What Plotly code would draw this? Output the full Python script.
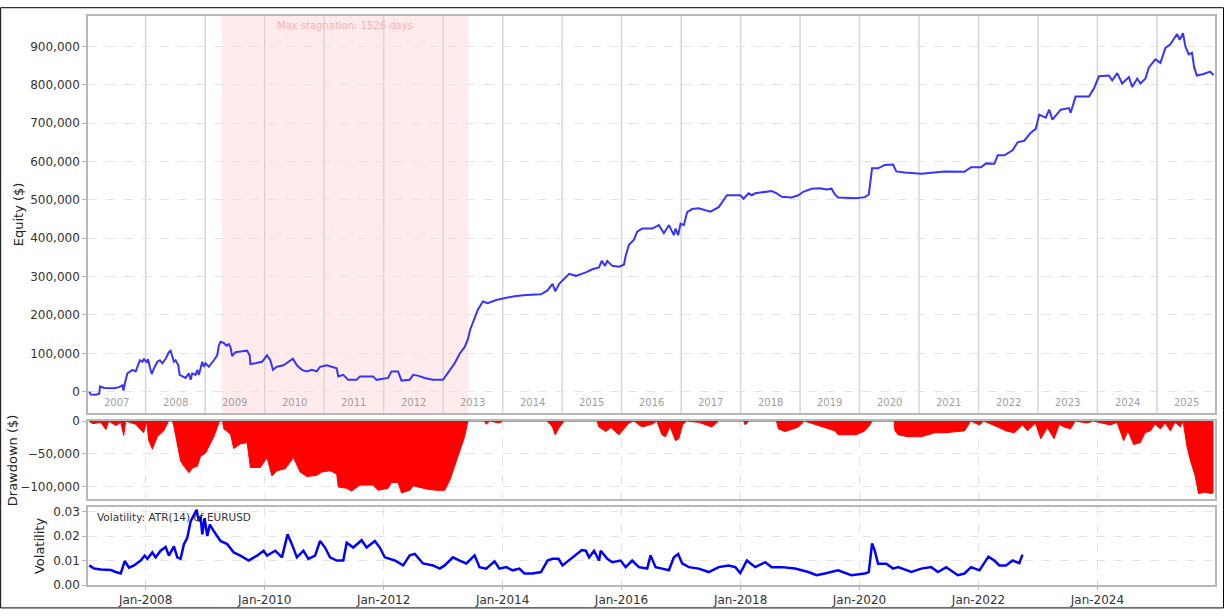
import plotly.graph_objects as go
from datetime import datetime, timedelta

# ---------------- data ----------------
# time given as decimal years
eq_year = [2007.050, 2007.079, 2007.162, 2007.218, 2007.234, 2007.302, 2007.464, 2007.553, 2007.610, 2007.626,
           2007.665, 2007.693, 2007.777, 2007.832, 2007.861, 2007.905, 2007.945, 2007.972, 2008.012, 2008.039,
           2008.072, 2008.101, 2008.139, 2008.196, 2008.240, 2008.280, 2008.335, 2008.390, 2008.419, 2008.447,
           2008.474, 2008.503, 2008.548, 2008.570, 2008.615, 2008.670, 2008.725, 2008.754, 2008.782, 2008.838,
           2008.866, 2008.893, 2008.950, 2008.977, 2009.005, 2009.060, 2009.144, 2009.201, 2009.228, 2009.256,
           2009.312, 2009.357, 2009.395, 2009.424, 2009.452, 2009.508, 2009.591, 2009.704, 2009.747, 2009.759,
           2009.843, 2009.955, 2010.039, 2010.094, 2010.139, 2010.206, 2010.317, 2010.400, 2010.474, 2010.541,
           2010.625, 2010.709, 2010.792, 2010.876, 2010.931, 2011.044, 2011.154, 2011.211, 2011.238, 2011.322,
           2011.405, 2011.546, 2011.601, 2011.685, 2011.824, 2011.881, 2012.075, 2012.132, 2012.243, 2012.300,
           2012.439, 2012.494, 2012.573, 2012.690, 2012.829, 2012.997, 2013.109, 2013.193, 2013.276, 2013.360,
           2013.415, 2013.456, 2013.499, 2013.583, 2013.667, 2013.750, 2013.891, 2014.059, 2014.198, 2014.394,
           2014.645, 2014.755, 2014.839, 2014.884, 2014.951, 2015.007, 2015.119, 2015.231, 2015.399, 2015.509,
           2015.621, 2015.667, 2015.722, 2015.760, 2015.844, 2015.956, 2016.040, 2016.068, 2016.124, 2016.208,
           2016.263, 2016.347, 2016.514, 2016.626, 2016.710, 2016.794, 2016.878, 2016.906, 2016.950, 2016.990,
           2017.045, 2017.101, 2017.184, 2017.296, 2017.492, 2017.631, 2017.732, 2017.771, 2017.995, 2018.050,
           2018.134, 2018.189, 2018.246, 2018.524, 2018.608, 2018.692, 2018.859, 2018.971, 2019.055, 2019.194,
           2019.335, 2019.445, 2019.529, 2019.586, 2019.641, 2019.948, 2020.089, 2020.156, 2020.211, 2020.312,
           2020.424, 2020.563, 2020.618, 2020.759, 2021.037, 2021.204, 2021.429, 2021.764, 2021.874, 2022.042,
           2022.126, 2022.266, 2022.322, 2022.434, 2022.573, 2022.657, 2022.769, 2022.879, 2022.963, 2023.020,
           2023.131, 2023.188, 2023.243, 2023.382, 2023.523, 2023.549, 2023.633, 2023.857, 2023.941, 2024.025,
           2024.193, 2024.248, 2024.332, 2024.415, 2024.528, 2024.583, 2024.667, 2024.722, 2024.806, 2024.863,
           2024.973, 2025.057, 2025.141, 2025.224, 2025.281, 2025.337, 2025.382, 2025.437, 2025.476, 2025.533,
           2025.588, 2025.625, 2025.670, 2025.782, 2025.893, 2025.950]
equity_k = [0, -7, -8, -5, 14, 10, 9, 12, 17, 3,
            31, 48, 57, 53, 65, 82, 78, 86, 76, 85,
            63, 46, 61, 78, 82, 74, 86, 103, 107, 95,
            78, 82, 69, 44, 40, 36, 48, 31, 48, 44,
            57, 44, 78, 65, 74, 65, 82, 95, 120, 130,
            127, 120, 124, 116, 93, 103, 105, 107, 95, 72,
            74, 78, 95, 82, 57, 65, 69, 78, 86, 69,
            57, 53, 57, 53, 65, 69, 65, 61, 40, 44,
            31, 31, 40, 40, 40, 31, 36, 53, 53, 29,
            31, 44, 42, 36, 31, 31, 57, 74, 99, 116,
            137, 163, 180, 214, 235, 231, 239, 244, 249, 252,
            254, 264, 281, 262, 281, 290, 307, 302, 311, 319,
            324, 341, 328, 341, 328, 326, 331, 353, 383, 396,
            417, 425, 425, 434, 413, 434, 408, 425, 408, 438,
            434, 468, 476, 478, 469, 481, 506, 512, 512, 503,
            517, 512, 517, 523, 517, 508, 506, 512, 521, 529,
            530, 527, 529, 514, 506, 504, 507, 514, 582, 582,
            591, 592, 574, 571, 568, 571, 574, 573, 585, 585,
            595, 594, 616, 616, 629, 650, 654, 675, 685, 722,
            714, 735, 709, 735, 739, 727, 769, 769, 790, 822,
            824, 811, 830, 803, 820, 794, 816, 803, 816, 845,
            866, 857, 896, 905, 917, 932, 917, 934, 900, 879,
            883, 845, 824, 828, 834, 825]

dd_year = [2007.045, 2007.112, 2007.246, 2007.330, 2007.380, 2007.497, 2007.581, 2007.631, 2007.665, 2007.832,
           2007.966, 2008.017, 2008.050, 2008.112, 2008.196, 2008.302, 2008.385, 2008.447, 2008.469, 2008.531,
           2008.586, 2008.642, 2008.725, 2008.782, 2008.866, 2008.921, 2009.005, 2009.144, 2009.201, 2009.240,
           2009.290, 2009.312, 2009.424, 2009.479, 2009.591, 2009.704, 2009.759, 2009.926, 2010.039, 2010.122,
           2010.206, 2010.345, 2010.484, 2010.596, 2010.709, 2010.876, 2010.960, 2011.099, 2011.211, 2011.238,
           2011.379, 2011.462, 2011.601, 2011.824, 2011.908, 2012.075, 2012.132, 2012.243, 2012.300, 2012.439,
           2012.494, 2012.718, 2012.886, 2013.025, 2013.109, 2013.193, 2013.276, 2013.360, 2013.415, 2013.693,
           2013.724, 2013.779, 2013.946, 2013.997, 2014.750, 2014.834, 2014.884, 2014.951, 2015.035, 2015.586,
           2015.621, 2015.733, 2015.822, 2015.956, 2016.040, 2016.124, 2016.208, 2016.342, 2016.509, 2016.593,
           2016.677, 2016.739, 2016.811, 2016.906, 2016.960, 2017.027, 2017.094, 2017.296, 2017.513, 2017.631,
           2018.050, 2018.079, 2018.134, 2018.603, 2018.636, 2018.747, 2018.886, 2018.971, 2019.072, 2019.586,
           2019.641, 2019.948, 2020.089, 2020.173, 2020.211, 2020.580, 2020.596, 2020.647, 2020.814, 2021.037,
           2021.261, 2021.429, 2021.764, 2021.869, 2022.015, 2022.087, 2022.322, 2022.461, 2022.600, 2022.740,
           2022.824, 2022.958, 2023.046, 2023.157, 2023.270, 2023.358, 2023.436, 2023.547, 2023.626, 2023.827,
           2023.927, 2024.216, 2024.328, 2024.440, 2024.512, 2024.608, 2024.719, 2024.797, 2024.887, 2024.965,
           2025.057, 2025.137, 2025.224, 2025.303, 2025.392, 2025.437, 2025.504, 2025.557, 2025.641, 2025.698,
           2025.809, 2025.921, 2025.950]
drawdown_k = [0, -4, -2, -13, 0, -7, -2, -22, 0, -5,
              -18, 0, -29, -43, -24, -15, 0, 0, -6, -33,
              -61, -69, -79, -72, -69, -54, -49, -24, -9, 0,
              0, -12, -20, -42, -35, -33, -71, -71, -56, -84,
              -76, -73, -56, -78, -85, -83, -78, -76, -81, -101,
              -103, -107, -98, -98, -106, -103, -94, -94, -110, -106,
              -99, -104, -106, -106, -91, -69, -49, -24, 0, 0,
              -5, 0, -3, 0, 0, -8, -21, -10, 0, 0,
              -9, -16, -10, -21, -12, -3, 0, -9, -5, 0,
              -21, -24, -8, -30, -27, -5, 0, -2, -9, 0,
              0, -6, 0, 0, -12, -16, -12, -9, 0, -15,
              -21, -21, -15, -6, 0, 0, -15, -21, -24, -24,
              -18, -18, -15, 0, -6, 0, -9, -15, -18, -6,
              -15, -3, -27, -10, -27, -5, -9, -12, 0, -3,
              0, -6, -2, -30, -15, -36, -33, -18, -15, -5,
              -12, -3, -15, -2, -9, 0, -39, -59, -84, -111,
              -109, -111, -109]

vol_year = [2007.050, 2007.134, 2007.246, 2007.414, 2007.497, 2007.581, 2007.648, 2007.720, 2007.804, 2007.916,
            2007.983, 2008.028, 2008.112, 2008.168, 2008.251, 2008.335, 2008.390, 2008.474, 2008.531, 2008.586,
            2008.642, 2008.698, 2008.754, 2008.809, 2008.854, 2008.893, 2008.921, 2008.950, 2008.988, 2009.034,
            2009.077, 2009.144, 2009.256, 2009.369, 2009.479, 2009.591, 2009.730, 2009.871, 2009.982, 2010.039,
            2010.178, 2010.290, 2010.384, 2010.457, 2010.541, 2010.652, 2010.735, 2010.848, 2010.931, 2011.015,
            2011.099, 2011.211, 2011.322, 2011.379, 2011.489, 2011.630, 2011.714, 2011.853, 2011.936, 2012.020,
            2012.188, 2012.327, 2012.439, 2012.523, 2012.662, 2012.829, 2012.941, 2013.025, 2013.164, 2013.276,
            2013.389, 2013.528, 2013.611, 2013.724, 2013.863, 2013.946, 2014.059, 2014.169, 2014.281, 2014.365,
            2014.504, 2014.645, 2014.755, 2014.839, 2014.940, 2015.007, 2015.332, 2015.399, 2015.454, 2015.538,
            2015.621, 2015.650, 2015.760, 2015.844, 2015.985, 2016.069, 2016.179, 2016.291, 2016.430, 2016.487,
            2016.571, 2016.682, 2016.794, 2016.878, 2016.950, 2017.017, 2017.129, 2017.296, 2017.464, 2017.631,
            2017.799, 2017.911, 2017.995, 2018.106, 2018.246, 2018.414, 2018.524, 2018.692, 2018.916, 2019.139,
            2019.278, 2019.417, 2019.640, 2019.863, 2020.089, 2020.156, 2020.211, 2020.256, 2020.312, 2020.451,
            2020.563, 2020.647, 2020.870, 2021.037, 2021.204, 2021.317, 2021.456, 2021.652, 2021.764, 2021.874,
            2022.015, 2022.166, 2022.266, 2022.350, 2022.461, 2022.573, 2022.685, 2022.740]
volatility = [0.0080, 0.0067, 0.0063, 0.0061, 0.0053, 0.0047, 0.0098, 0.0071, 0.0080, 0.0100,
              0.0120, 0.0107, 0.0133, 0.0113, 0.0140, 0.0155, 0.0120, 0.0158, 0.0113, 0.0107,
              0.0167, 0.0193, 0.0260, 0.0287, 0.0307, 0.0260, 0.0280, 0.0207, 0.0273, 0.0200,
              0.0247, 0.0220, 0.0180, 0.0167, 0.0133, 0.0120, 0.0100, 0.0120, 0.0140, 0.0120,
              0.0140, 0.0113, 0.0207, 0.0167, 0.0113, 0.0140, 0.0107, 0.0120, 0.0180, 0.0153,
              0.0113, 0.0100, 0.0100, 0.0173, 0.0153, 0.0183, 0.0153, 0.0180, 0.0153, 0.0113,
              0.0100, 0.0080, 0.0121, 0.0127, 0.0088, 0.0080, 0.0067, 0.0080, 0.0113, 0.0100,
              0.0088, 0.0121, 0.0073, 0.0067, 0.0097, 0.0067, 0.0073, 0.0060, 0.0067, 0.0047,
              0.0047, 0.0053, 0.0100, 0.0107, 0.0107, 0.0080, 0.0143, 0.0140, 0.0113, 0.0140,
              0.0100, 0.0140, 0.0107, 0.0093, 0.0100, 0.0073, 0.0100, 0.0073, 0.0067, 0.0121,
              0.0073, 0.0067, 0.0060, 0.0113, 0.0127, 0.0088, 0.0073, 0.0067, 0.0053, 0.0073,
              0.0080, 0.0073, 0.0049, 0.0100, 0.0073, 0.0093, 0.0073, 0.0073, 0.0067, 0.0053,
              0.0040, 0.0047, 0.0060, 0.0040, 0.0047, 0.0053, 0.0170, 0.0140, 0.0087, 0.0087,
              0.0067, 0.0073, 0.0053, 0.0067, 0.0073, 0.0053, 0.0073, 0.0040, 0.0047, 0.0073,
              0.0060, 0.0116, 0.0100, 0.0080, 0.0080, 0.0100, 0.0089, 0.0124]

year_labels = ["2007", "2008", "2009", "2010", "2011", "2012", "2013", "2014", "2015", "2016",
               "2017", "2018", "2019", "2020", "2021", "2022", "2023", "2024", "2025"]
stagnation_start = 2009.273
stagnation_end = 2013.427
stagnation_text = "Max stagnation: 1526 days"
vol_label = "Volatility: ATR(14) of EURUSD"


# ---------------- helpers ----------------
def to_date(y):
    yr = int(y // 1)
    start = datetime(yr, 1, 1)
    span = (datetime(yr + 1, 1, 1) - start).total_seconds()
    return start + timedelta(seconds=(y - yr) * span)


n = min(len(eq_year), len(equity_k))
eq_x = [to_date(v) for v in eq_year[:n]]
eq_y = [v * 1000 for v in equity_k[:n]]
m = min(len(dd_year), len(drawdown_k))
dd_x = [to_date(v) for v in dd_year[:m]]
dd_y = [v * 1000 for v in drawdown_k[:m]]
k = min(len(vol_year), len(volatility))
vol_x = [to_date(v) for v in vol_year[:k]]
vol_y = volatility[:k]

W, H = 1226, 616
ML, MR, MT, MB = 88, 9, 9, 24
PW, PH = W - ML - MR, H - MT - MB


def py(pix):  # pixel y (from top) -> paper y
    return (H - MB - pix) / PH


def px(pix):  # pixel x -> paper x
    return (pix - ML) / PW


x_range = [to_date(2007.03), to_date(2025.975)]
FONT = "DejaVu Sans"
GRID = "#e4e4e4"
BORDER = "#b8b8b8"

fig = go.Figure()
fig.add_trace(go.Scatter(x=eq_x, y=eq_y, mode="lines", xaxis="x", yaxis="y",
                         line=dict(color="#3535ff", width=2), showlegend=False))
fig.add_trace(go.Scatter(x=dd_x, y=dd_y, mode="lines", xaxis="x2", yaxis="y2",
                         fill="tozeroy", fillcolor="#ff0000",
                         line=dict(color="#ff0000", width=1), showlegend=False))
fig.add_trace(go.Scatter(x=vol_x, y=vol_y, mode="lines", xaxis="x3", yaxis="y3",
                         line=dict(color="#0000ff", width=2.5), showlegend=False))

axis_common = dict(showline=True, mirror=True, linecolor=BORDER, linewidth=1.5,
                   zeroline=False, tickfont=dict(family=FONT, size=12, color="#333"))

fig.update_layout(
    width=W, height=H, autosize=False,
    margin=dict(l=ML, r=MR, t=MT, b=MB, pad=0),
    paper_bgcolor="white", plot_bgcolor="white",
    font=dict(family=FONT, size=12, color="#333"),
    xaxis=dict(domain=[0, 1], anchor="y", range=x_range, type="date",
               showticklabels=False, showgrid=False, ticks="", **axis_common),
    xaxis2=dict(domain=[0, 1], anchor="y2", range=x_range, type="date", matches="x",
                showticklabels=False, showgrid=True, gridcolor=GRID, griddash="dash",
                tick0="2008-01-01", dtick="M24", ticks="", **axis_common),
    xaxis3=dict(domain=[0, 1], anchor="y3", range=x_range, type="date", matches="x",
                showticklabels=True, showgrid=True, gridcolor=GRID, griddash="dash",
                tick0="2008-01-01", dtick="M24", tickformat="%b-%Y",
                ticks="outside", ticklen=3, tickcolor=BORDER, **axis_common),
    yaxis=dict(domain=[py(416), py(MT)], anchor="x", range=[-56000, 979000],
               tickvals=[0, 100000, 200000, 300000, 400000, 500000, 600000, 700000, 800000, 900000],
               tickformat=",", showgrid=True, gridcolor=GRID, griddash="dash",
               ticks="outside", ticklen=4, tickcolor=BORDER, **axis_common),
    yaxis2=dict(domain=[py(504), py(424)], anchor="x2", range=[-119500, 0],
                tickvals=[0, -50000, -100000], tickformat=",",
                showgrid=True, gridcolor=GRID, griddash="dash",
                ticks="outside", ticklen=4, tickcolor=BORDER, **axis_common),
    yaxis3=dict(domain=[0, py(512)], anchor="x3", range=[0, 0.0319],
                tickvals=[0, 0.01, 0.02, 0.03], tickformat=".2f",
                showgrid=True, gridcolor=GRID, griddash="dash",
                ticks="outside", ticklen=4, tickcolor=BORDER, **axis_common),
)

shapes = []
# max stagnation band
shapes.append(dict(type="rect", xref="x", yref="y domain", layer="below",
                   x0=to_date(stagnation_start), x1=to_date(stagnation_end), y0=0, y1=1,
                   fillcolor="rgba(255,0,0,0.08)", line=dict(width=0)))
# year separators
for lab in year_labels[1:]:
    d = datetime(int(lab), 1, 1)
    shapes.append(dict(type="line", xref="x", yref="y domain", layer="below",
                       x0=d, x1=d, y0=0, y1=1, line=dict(color="#d6d6d6", width=1.5)))
# outer black frame
shapes.append(dict(type="rect", xref="paper", yref="paper",
                   x0=px(0.5), x1=px(W - 0.5), y0=py(H - 0.5), y1=py(0.5),
                   line=dict(color="black", width=1), fillcolor="rgba(0,0,0,0)"))
fig.update_layout(shapes=shapes)

ann = []
for lab in year_labels:
    yr = int(lab)
    left = max(yr, 2007.03)
    right = min(yr + 1, 2025.975)
    ann.append(dict(x=to_date((left + right) / 2), y=(416 - 405) / (416 - MT), xref="x", yref="y domain",
                    text=lab, showarrow=False, xanchor="center", yanchor="middle",
                    font=dict(family=FONT, size=10, color="#a0a0a0")))
ann.append(dict(x=to_date((stagnation_start + stagnation_end) / 2), y=(416 - 19) / (416 - MT),
                xref="x", yref="y domain", text=stagnation_text, showarrow=False,
                xanchor="center", yanchor="middle",
                font=dict(family=FONT, size=10, color="#ffb0b0")))
ann.append(dict(x=px(95), y=py(522), xref="paper", yref="paper", text=vol_label, showarrow=False,
                xanchor="left", yanchor="middle", font=dict(family=FONT, size=10.5, color="#333")))
# axis titles
for title, xp, yp in [("Equity ($)", 18, 212), ("Drawdown ($)", 12, 464), ("Volatility", 40, 552)]:
    ann.append(dict(x=px(xp), y=py(yp), xref="paper", yref="paper", text=title, showarrow=False,
                    textangle=-90, xanchor="center", yanchor="middle",
                    font=dict(family=FONT, size=13, color="#222")))
fig.update_layout(annotations=ann)

fig.write_html("out.html", config={"displayModeBar": False},
               post_script="document.body.style.margin='0';")
